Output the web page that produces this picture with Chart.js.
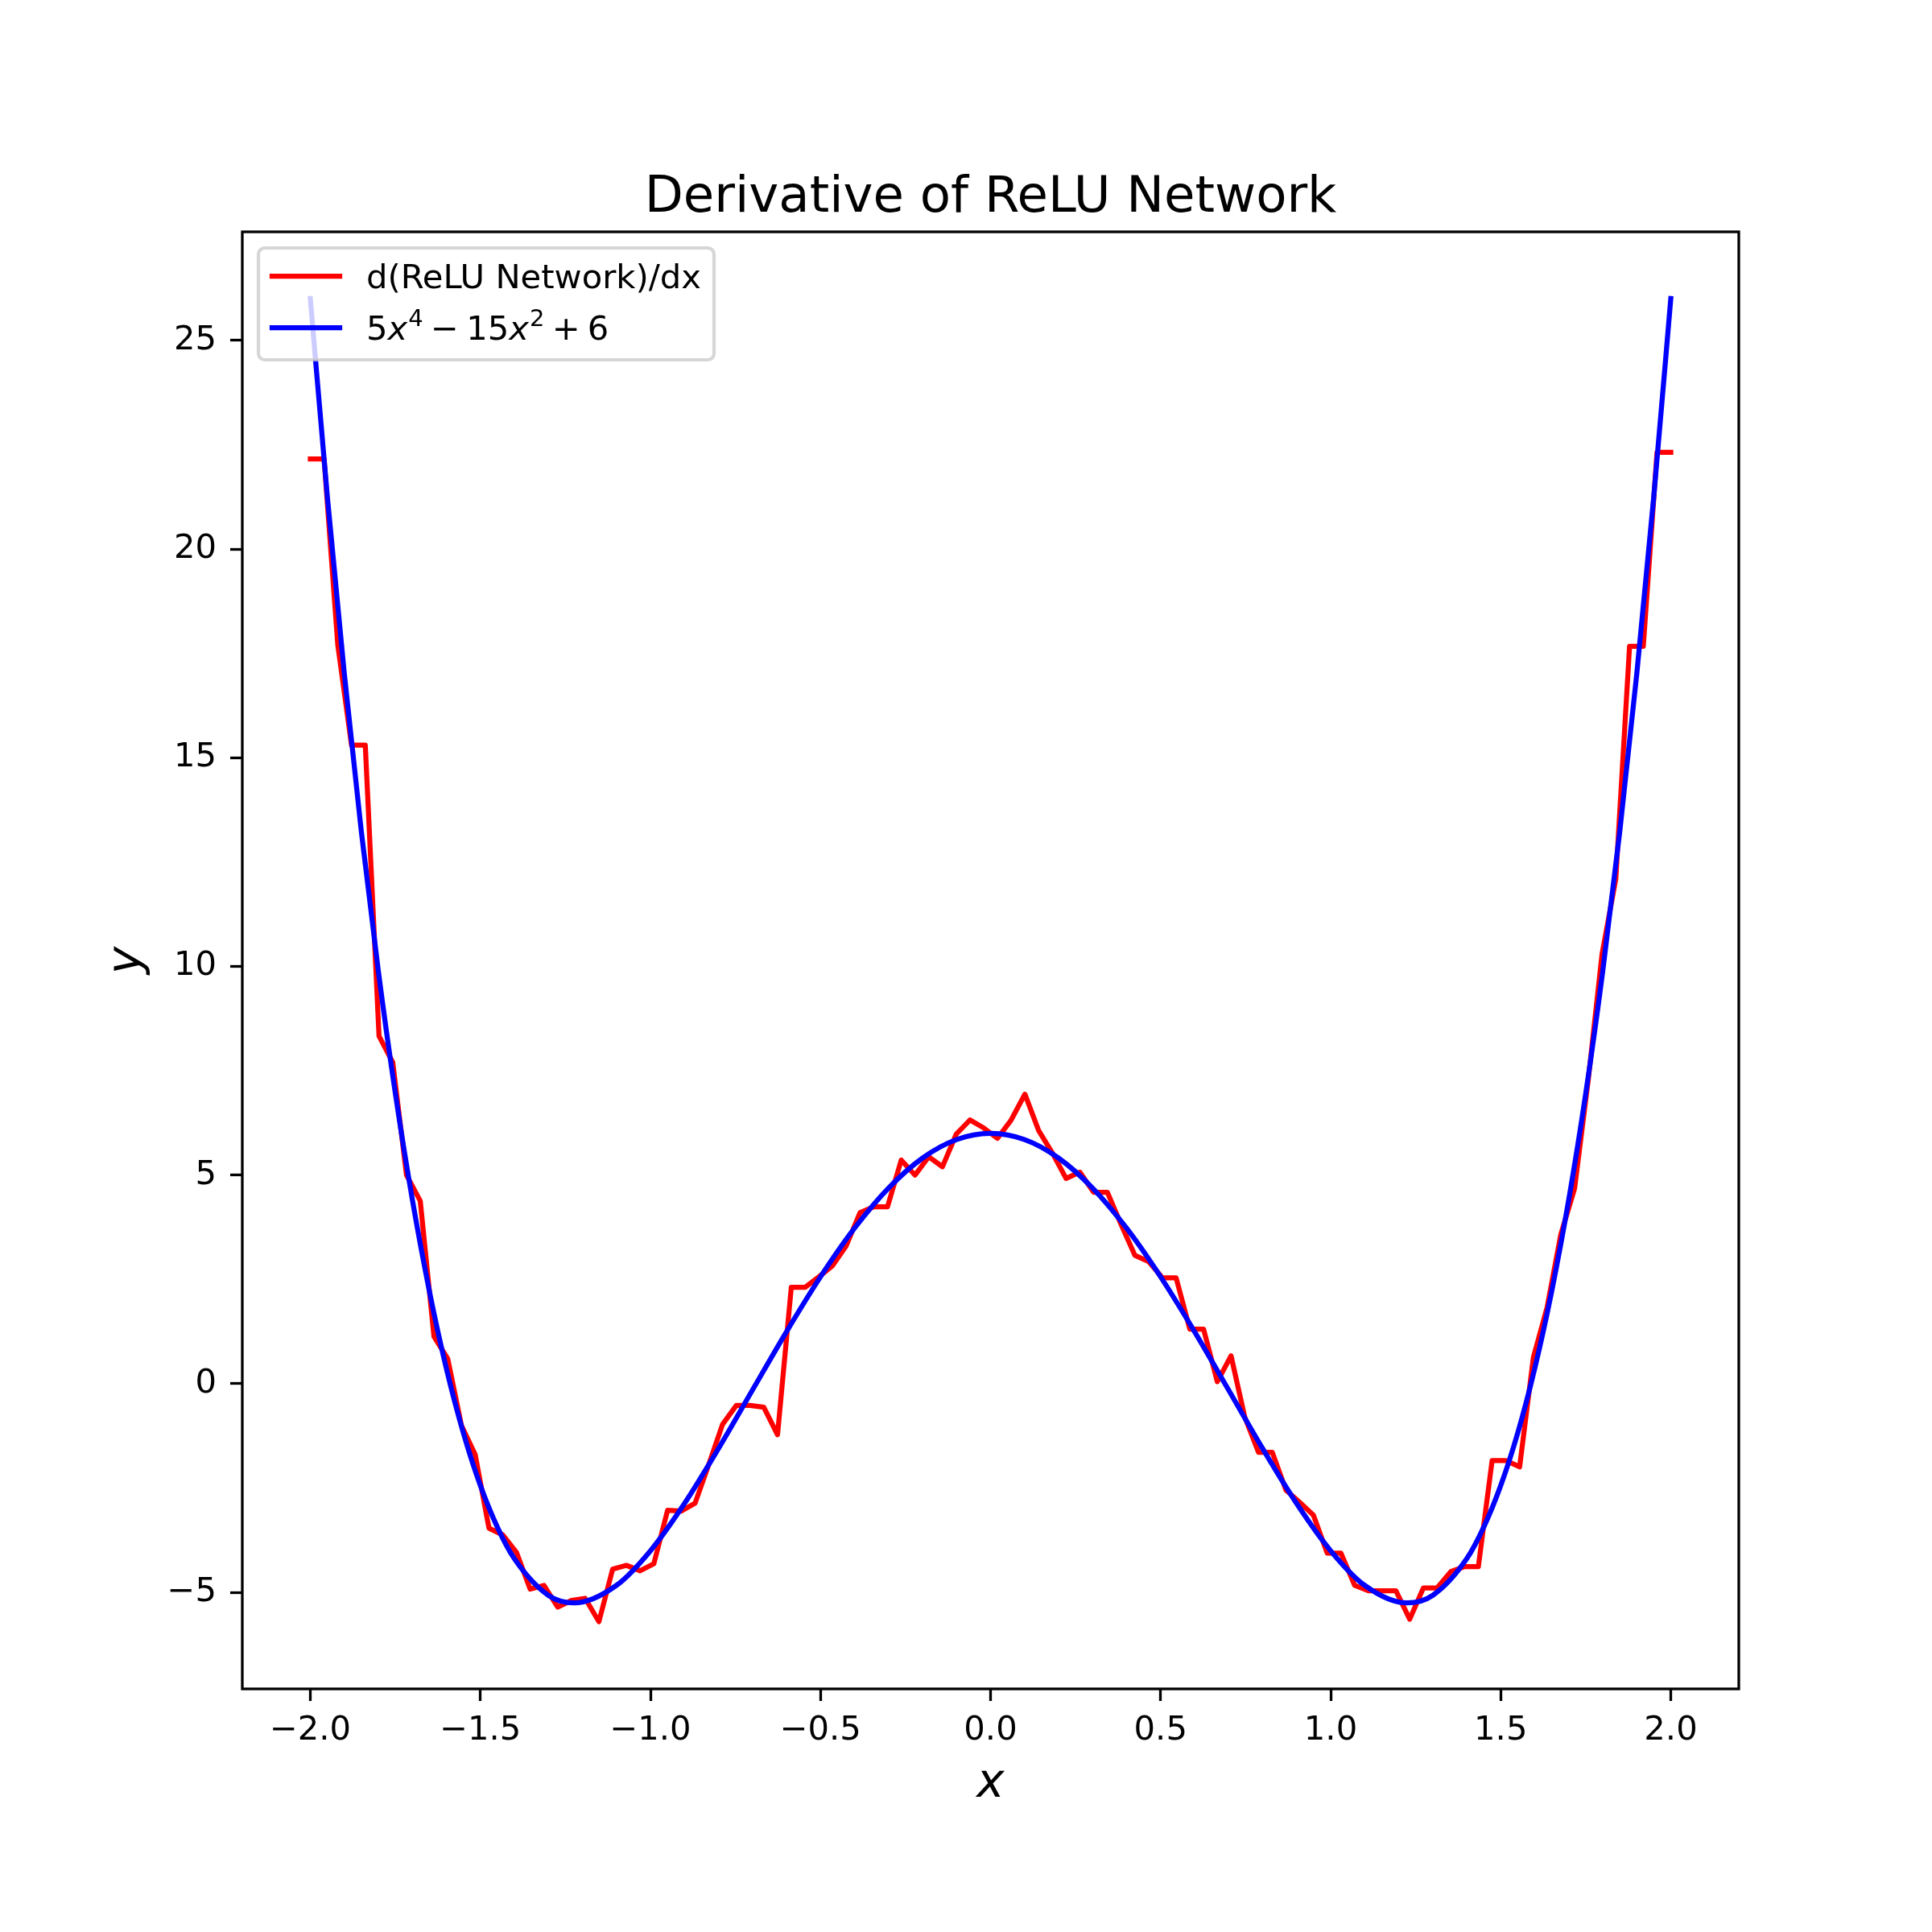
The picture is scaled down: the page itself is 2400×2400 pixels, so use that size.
<!DOCTYPE html>
<html>
<head>
<meta charset="utf-8">
<title>Derivative of ReLU Network</title>
<script src="https://cdn.jsdelivr.net/npm/chart.js@4.4.0/dist/chart.umd.min.js"></script>
<style>
  html, body { margin: 0; padding: 0; background: #fff; }
  canvas { display: block; }
</style>
</head>
<body>
<canvas id="chart" width="2400" height="2400"></canvas>
<script>
// sample grid of the network derivative (100 points on [-2, 2])
const gridX = [
  -2.0000, -1.9596, -1.9192, -1.8788, -1.8384, -1.7980, -1.7576, -1.7172, -1.6768, -1.6364,
  -1.5960, -1.5556, -1.5152, -1.4747, -1.4343, -1.3939, -1.3535, -1.3131, -1.2727, -1.2323,
  -1.1919, -1.1515, -1.1111, -1.0707, -1.0303, -0.9899, -0.9495, -0.9091, -0.8687, -0.8283,
  -0.7879, -0.7475, -0.7071, -0.6667, -0.6263, -0.5859, -0.5455, -0.5051, -0.4646, -0.4242,
  -0.3838, -0.3434, -0.3030, -0.2626, -0.2222, -0.1818, -0.1414, -0.1010, -0.0606, -0.0202,
   0.0202,  0.0606,  0.1010,  0.1414,  0.1818,  0.2222,  0.2626,  0.3030,  0.3434,  0.3838,
   0.4242,  0.4646,  0.5051,  0.5455,  0.5859,  0.6263,  0.6667,  0.7071,  0.7475,  0.7879,
   0.8283,  0.8687,  0.9091,  0.9495,  0.9899,  1.0303,  1.0707,  1.1111,  1.1515,  1.1919,
   1.2323,  1.2727,  1.3131,  1.3535,  1.3939,  1.4343,  1.4747,  1.5152,  1.5556,  1.5960,
   1.6364,  1.6768,  1.7172,  1.7576,  1.7980,  1.8384,  1.8788,  1.9192,  1.9596,  2.0000
];

const reluDeriv = [
  22.16, 22.16, 17.7, 15.3, 15.3, 8.33, 7.7, 5.0, 4.38, 1.13,
  0.6, -1.0, -1.7, -3.46, -3.62, -4.04, -4.92, -4.83, -5.35, -5.19,
  -5.14, -5.7, -4.44, -4.35, -4.48, -4.31, -3.03, -3.05, -2.86, -1.93,
  -0.97, -0.52, -0.52, -0.56, -1.22, 2.31, 2.31, 2.56, 2.83, 3.31,
  4.1, 4.24, 4.24, 5.36, 5.0, 5.44, 5.2, 5.98, 6.32, 6.13,
  5.88, 6.32, 6.94, 6.07, 5.53, 4.92, 5.07, 4.59, 4.59, 3.82,
  3.08, 2.93, 2.54, 2.54, 1.31, 1.31, 0.05, 0.67, -0.8, -1.64,
  -1.64, -2.55, -2.84, -3.15, -4.06, -4.06, -4.83, -4.96, -4.96, -4.96,
  -5.64, -4.89, -4.89, -4.5, -4.38, -4.38, -1.84, -1.84, -1.99, 0.63,
  1.83, 3.58, 4.68, 7.3, 10.3, 12.1, 17.67, 17.67, 22.32, 22.32
];

// reference polynomial
const polyX = [
  -2.0, -1.95, -1.9, -1.85, -1.8, -1.75, -1.7, -1.65, -1.6, -1.55, -1.5, -1.45, -1.4, -1.3, -1.2247,
  -1.1, -1.0, -0.9, -0.8, -0.7, -0.6, -0.5, -0.4, -0.3, -0.2, -0.1, 0.0,
  0.1, 0.2, 0.3, 0.4, 0.5, 0.6, 0.7, 0.8, 0.9, 1.0, 1.1,
  1.2247, 1.3, 1.4, 1.45, 1.5, 1.55, 1.6, 1.65, 1.7, 1.75, 1.8, 1.85, 1.9, 1.95, 2.0
];
const polyY = [
  26.0, 21.2575, 17.0105, 13.23, 9.888, 6.957, 4.4105, 2.2225, 0.368, -1.1775, -2.4375, -3.435, -4.192, -5.0695, -5.25,
  -4.8295, -4.0, -2.8695, -1.552, -0.1495, 1.248, 2.5625, 3.728, 4.6905, 5.408, 5.8505, 6.0,
  5.8505, 5.408, 4.6905, 3.728, 2.5625, 1.248, -0.1495, -1.552, -2.8695, -4.0, -4.8295,
  -5.25, -5.0695, -4.192, -3.435, -2.4375, -1.1775, 0.368, 2.2225, 4.4105, 6.957, 9.888, 13.23, 17.0105, 21.2575, 26.0
];

const xTicks = [-2, -1.5, -1, -0.5, 0, 0.5, 1, 1.5, 2];
const xTickLabels = ['\u22122.0', '\u22121.5', '\u22121.0', '\u22120.5', '0.0', '0.5', '1.0', '1.5', '2.0'];
const yTicks = [-5, 0, 5, 10, 15, 20, 25];
const yTickLabels = ['\u22125', '0', '5', '10', '15', '20', '25'];

const titleText = 'Derivative of ReLU Network';
const reluLabel = 'd(ReLU Network)/dx';

const FONT = '"DejaVu Sans", "Liberation Sans", sans-serif';
Chart.defaults.font.family = FONT;

// mathtext-like label: [text, style] pieces, 'op' gets medium space on both sides
const polyLabel = [
    ['5', 'n'], ['x', 'i'], ['4', 's'], ['\u2212', 'op'],
    ['15', 'n'], ['x', 'i'], ['2', 's'], ['+', 'op'], ['6', 'n']
];

function drawLegend(ctx) {
    ctx.save();
    // frame
    ctx.beginPath();
    ctx.roundRect(321, 308, 566, 139, 8);
    ctx.fillStyle = 'rgba(255,255,255,0.8)';
    ctx.fill();
    ctx.lineWidth = 4.2;
    ctx.strokeStyle = 'rgba(204,204,204,0.8)';
    ctx.stroke();

    // handles
    ctx.lineWidth = 6.25;
    ctx.lineCap = 'square';
    ctx.strokeStyle = '#ff0000';
    ctx.beginPath(); ctx.moveTo(338, 343); ctx.lineTo(422, 343); ctx.stroke();
    ctx.strokeStyle = '#0000ff';
    ctx.beginPath(); ctx.moveTo(338, 407); ctx.lineTo(422, 407); ctx.stroke();

    // labels
    ctx.fillStyle = '#000';
    ctx.textBaseline = 'alphabetic';
    ctx.textAlign = 'left';
    ctx.font = '41.7px ' + FONT;
    ctx.fillText(reluLabel, 455, 358);

    const base = 422;
    const fonts = {
        n: '41.7px ' + FONT,
        op: '41.7px ' + FONT,
        i: 'italic 41.7px ' + FONT,
        s: '29px ' + FONT
    };
    const gap = 9.3;
    let x = 455;
    polyLabel.forEach(([txt, style]) => {
        ctx.font = fonts[style];
        if (style === 'op') x += gap;
        ctx.fillText(txt, x, style === 's' ? base - 17 : base);
        x += ctx.measureText(txt).width;
        if (style === 'op') x += gap;
        if (style === 'i') x += 1;
    });
    ctx.restore();
}

const overlay = {
    id: 'overlay',
    beforeDraw(chart) {
        const ctx = chart.ctx;
        ctx.save();
        ctx.fillStyle = '#ffffff';
        ctx.fillRect(0, 0, chart.width, chart.height);
        ctx.restore();
    },
    afterDraw(chart) {
        const ctx = chart.ctx;
        const a = chart.chartArea;
        const cx = (a.left + a.right) / 2;
        ctx.save();
        // axes box
        ctx.strokeStyle = '#000';
        ctx.lineWidth = 3.3;
        ctx.strokeRect(a.left, a.top, a.right - a.left, a.bottom - a.top);

        // title
        ctx.fillStyle = '#000';
        ctx.textAlign = 'center';
        ctx.textBaseline = 'alphabetic';
        ctx.font = '62.5px ' + FONT;
        ctx.fillText(titleText, cx, a.top - 25);

        // axis labels
        ctx.font = 'italic 58px ' + FONT;
        ctx.fillText('x', cx, 2232);
        ctx.translate(174, (a.top + a.bottom) / 2);
        ctx.rotate(-Math.PI / 2);
        ctx.fillText('y', 0, 0);
        ctx.restore();

        drawLegend(ctx);
    }
};

const tickFont = { family: FONT, size: 41.7 };

new Chart(document.getElementById('chart').getContext('2d'), {
    type: 'line',
    data: {
        datasets: [
            {
                label: reluLabel,
                data: gridX.map((x, i) => ({ x: x, y: reluDeriv[i] })),
                borderColor: '#ff0000',
                borderWidth: 6.25,
                borderJoinStyle: 'round',
                borderCapStyle: 'square',
                pointRadius: 0,
                tension: 0,
                order: 2
            },
            {
                label: '5x^4 - 15x^2 + 6',
                data: polyX.map((x, i) => ({ x: x, y: polyY[i] })),
                borderColor: '#0000ff',
                borderWidth: 6.25,
                borderJoinStyle: 'round',
                borderCapStyle: 'square',
                pointRadius: 0,
                cubicInterpolationMode: 'monotone',
                order: 1
            }
        ]
    },
    options: {
        responsive: false,
        animation: false,
        devicePixelRatio: 1,
        layout: { padding: { left: 0, top: 288, right: 240, bottom: 0 } },
        plugins: {
            legend: { display: false },
            title: { display: false },
            tooltip: { enabled: false }
        },
        scales: {
            x: {
                type: 'linear',
                min: -2.2,
                max: 2.2,
                afterFit: scale => { scale.height = 302; },
                afterBuildTicks: scale => { scale.ticks = xTicks.map(v => ({ value: v })); },
                ticks: {
                    autoSkip: false,
                    maxRotation: 0,
                    color: '#000',
                    font: tickFont,
                    padding: 12,
                    callback: (value, index) => xTickLabels[index]
                },
                grid: {
                    drawOnChartArea: false,
                    drawTicks: true,
                    tickLength: 15,
                    tickWidth: 3.3,
                    tickColor: '#000'
                },
                border: { display: false }
            },
            y: {
                type: 'linear',
                min: -7.31,
                max: 27.6,
                afterFit: scale => { scale.width = 301; },
                afterBuildTicks: scale => { scale.ticks = yTicks.map(v => ({ value: v })); },
                ticks: {
                    autoSkip: false,
                    color: '#000',
                    font: tickFont,
                    padding: 17,
                    callback: (value, index) => yTickLabels[index]
                },
                grid: {
                    drawOnChartArea: false,
                    drawTicks: true,
                    tickLength: 15,
                    tickWidth: 3.3,
                    tickColor: '#000'
                },
                border: { display: false }
            }
        }
    },
    plugins: [overlay]
});
</script>
</body>
</html>
